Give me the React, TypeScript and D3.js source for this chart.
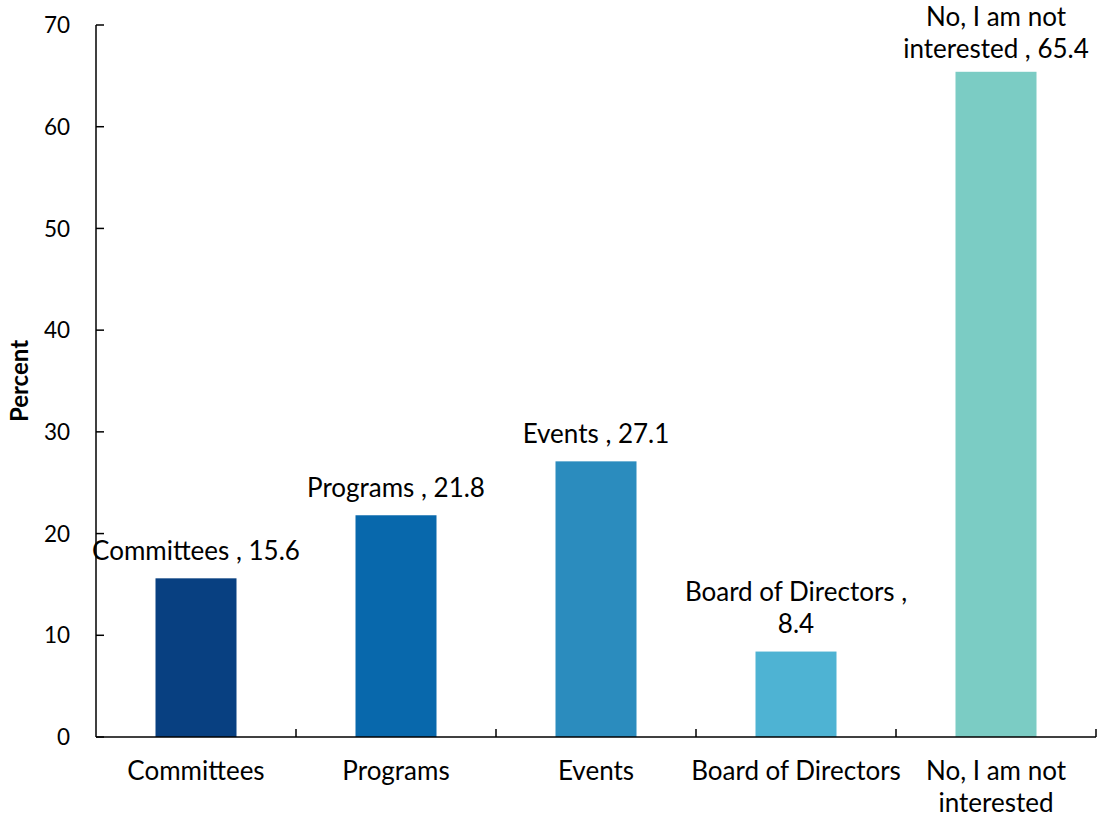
import React, { useEffect, useRef } from "react";
import * as d3 from "d3";

const categories = ["Committees", "Programs", "Events", "Board of Directors", "No, I am not interested"];
const values = [15.6, 21.8, 27.1, 8.4, 65.4];
const colors = ["#084081", "#0868ac", "#2b8cbe", "#4eb3d3", "#7bccc4"];
// how each category name wraps, on the axis and in the data label
const axisLines = [["Committees"], ["Programs"], ["Events"], ["Board of Directors"], ["No, I am not", "interested"]];
const labelLines = [
  ["Committees , 15.6"],
  ["Programs , 21.8"],
  ["Events , 27.1"],
  ["Board of Directors ,", "8.4"],
  ["No, I am not", "interested , 65.4"],
];
const yTicks = [0, 10, 20, 30, 40, 50, 60, 70];

const W = 1097;
const H = 818;
const FONT = "Lato, 'Open Sans', sans-serif";

const App: React.FC = () => {
  const ref = useRef<SVGSVGElement | null>(null);

  useEffect(() => {
    if (!ref.current) return;
    const svg = d3.select(ref.current);
    svg.selectAll("*").remove();

    const left = 96, right = 1096, top = 25, bottom = 737;

    const x = d3.scaleBand<string>().domain(categories).range([left, right]).paddingInner(0.595).paddingOuter(0.2975);
    const y = d3.scaleLinear().domain([0, 70]).range([bottom, top]);

    const g = svg.append("g");

    // bars
    g.selectAll("rect.bar")
      .data(categories)
      .enter()
      .append("rect")
      .attr("class", "bar")
      .attr("x", d => x(d)!)
      .attr("width", x.bandwidth())
      .attr("y", (d, i) => y(values[i]))
      .attr("height", (d, i) => bottom - y(values[i]))
      .attr("fill", (d, i) => colors[i]);

    // y axis, ticks point inwards
    g.append("line").attr("x1", left).attr("x2", left).attr("y1", top).attr("y2", bottom)
      .attr("stroke", "#000").attr("stroke-width", 1.5);
    yTicks.forEach(t => {
      g.append("line").attr("x1", left).attr("x2", left + 8).attr("y1", y(t)).attr("y2", y(t))
        .attr("stroke", "#000").attr("stroke-width", 1.5);
      g.append("text").attr("x", 70).attr("y", y(t)).attr("dy", "0.36em")
        .attr("text-anchor", "end").attr("font-size", 22.5).attr("font-family", FONT).attr("fill", "#000")
        .text(t);
    });

    // x axis with tick marks between categories
    g.append("line").attr("x1", left).attr("x2", right).attr("y1", bottom).attr("y2", bottom)
      .attr("stroke", "#000").attr("stroke-width", 1.5);
    const step = x.step();
    d3.range(categories.length).forEach(i => {
      const bx = left + step * (i + 1);
      g.append("line").attr("x1", bx).attr("x2", bx).attr("y1", bottom).attr("y2", bottom - 8)
        .attr("stroke", "#000").attr("stroke-width", 1.5);
    });

    categories.forEach((c, i) => {
      const cx = x(c)! + x.bandwidth() / 2;
      axisLines[i].forEach((line, j) => {
        g.append("text").attr("x", cx).attr("y", 780 + j * 32)
          .attr("text-anchor", "middle").attr("font-size", 26).attr("font-family", FONT).attr("fill", "#000")
          .text(line);
      });
      const lines = labelLines[i];
      let topY = y(values[i]) - 18 - (lines.length - 1) * 33;
      if (topY < 26) topY = 26;
      lines.forEach((line, j) => {
        g.append("text").attr("x", cx).attr("y", topY + j * 32)
          .attr("text-anchor", "middle").attr("font-size", 26).attr("font-family", FONT).attr("fill", "#000")
          .text(line);
      });
    });

    // y title
    g.append("text")
      .attr("transform", `translate(28, 381) rotate(-90)`)
      .attr("text-anchor", "middle").attr("font-size", 24).attr("font-weight", "bold")
      .attr("font-family", FONT).attr("fill", "#000")
      .text("Percent");
  }, []);

  return <svg ref={ref} width={W} height={H} style={{ position: "absolute", left: 0, top: 0 }} />;
};

export default App;
